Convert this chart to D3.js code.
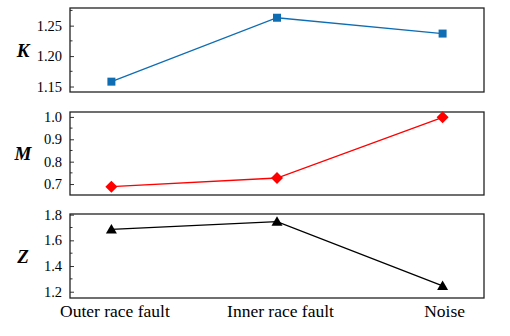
<!DOCTYPE html>
<html>
<head>
<meta charset="utf-8">
<script src="https://cdn.jsdelivr.net/npm/d3@7"></script>
<style>
  body { margin: 0; background: #fff; }
  svg text { font-family: "Liberation Serif", "Times New Roman", Times, serif; fill: #000; }
</style>
</head>
<body>
<svg id="chart" width="510" height="336"></svg>
<script>
// values
const categories = ["Outer race fault", "Inner race fault", "Noise"];
const kValues = [1.158, 1.263, 1.237];
const mValues = [0.688, 0.727, 0.998];
const zValues = [1.685, 1.745, 1.245];
const kTicks = [1.15, 1.20, 1.25];
const mTicks = [0.7, 0.8, 0.9, 1.0];
const zTicks = [1.2, 1.4, 1.6, 1.8];

const left = 70, right = 484;
const svg = d3.select("#chart");

// x: categories at 0,1,2 with a quarter-step of padding at each end
const x = d3.scaleLinear().domain([-0.25, 2.25]).range([left, right]);

const panels = [
  { label: "K", values: kValues, ticks: kTicks, fmt: ".2f", domain: [1.141, 1.279], top: 8, bottom: 92, color: "#0e6db3", marker: "square" },
  { label: "M", values: mValues, ticks: mTicks, fmt: ".1f", domain: [0.651, 1.022], top: 112, bottom: 195, color: "#ff0000", marker: "diamond" },
  { label: "Z", values: zValues, ticks: zTicks, fmt: ".1f", domain: [1.151, 1.805], top: 214, bottom: 298, color: "#000000", marker: "triangle" }
];

// marker shapes, centred on the point
const markers = {
  square: "M-4,-4H4V4H-4Z",
  diamond: "M0,-6L6,0L0,6L-6,0Z",
  triangle: "M0,-5.5L5.5,4L-5.5,4Z"
};

panels.forEach(p => {
  const y = d3.scaleLinear().domain(p.domain).range([p.bottom, p.top]);
  const g = svg.append("g");

  // minor ticks halfway between major ones
  const step = p.ticks[1] - p.ticks[0];
  const minor = [];
  for (let i = 0; i < p.ticks.length; i++) {
    const v = p.ticks[i] + step / 2;
    if (v < p.domain[1]) minor.push(v);
  }

  const axis = d3.axisLeft(y).tickValues(p.ticks).tickFormat(d3.format(p.fmt))
    .tickSizeInner(-4).tickSizeOuter(0).tickPadding(8);
  const ax = g.append("g").attr("transform", `translate(${left},0)`).call(axis)
    .attr("font-family", null).attr("font-size", null);
  ax.select(".domain").remove();
  ax.selectAll(".tick line").attr("stroke", "#333");
  ax.selectAll("text").style("font-size", "14.5px");

  g.selectAll(".minor")
    .data(minor)
    .enter()
    .append("line")
    .attr("class", "minor")
    .attr("x1", left).attr("x2", left + 2.5)
    .attr("y1", d => y(d)).attr("y2", d => y(d))
    .attr("stroke", "#333");

  // frame
  g.append("rect")
    .attr("x", left).attr("y", p.top)
    .attr("width", right - left).attr("height", p.bottom - p.top)
    .attr("fill", "none").attr("stroke", "#222").attr("stroke-width", 1.3);

  // line + markers
  const line = d3.line().x((d, i) => x(i)).y(d => y(d));
  g.append("path")
    .datum(p.values)
    .attr("d", line)
    .attr("fill", "none")
    .attr("stroke", p.color)
    .attr("stroke-width", 1.3);

  g.selectAll(".pt")
    .data(p.values)
    .enter()
    .append("path")
    .attr("class", "pt")
    .attr("transform", (d, i) => `translate(${x(i)},${y(d)})`)
    .attr("d", markers[p.marker])
    .attr("fill", p.color);

  // panel label
  g.append("text")
    .attr("x", 23)
    .attr("y", (p.top + p.bottom) / 2)
    .attr("dy", "0.35em")
    .attr("text-anchor", "middle")
    .style("font-size", "19px")
    .style("font-weight", "bold")
    .style("font-style", "italic")
    .text(p.label);
});

// category labels under the bottom panel
svg.selectAll(".cat")
  .data(categories)
  .enter()
  .append("text")
  .attr("class", "cat")
  .attr("x", (d, i) => x(i) + (i === 2 ? 2 : 3.5))
  .attr("y", 317)
  .attr("text-anchor", "middle")
  .style("font-size", "17.5px")
  .text(d => d);
</script>
</body>
</html>
